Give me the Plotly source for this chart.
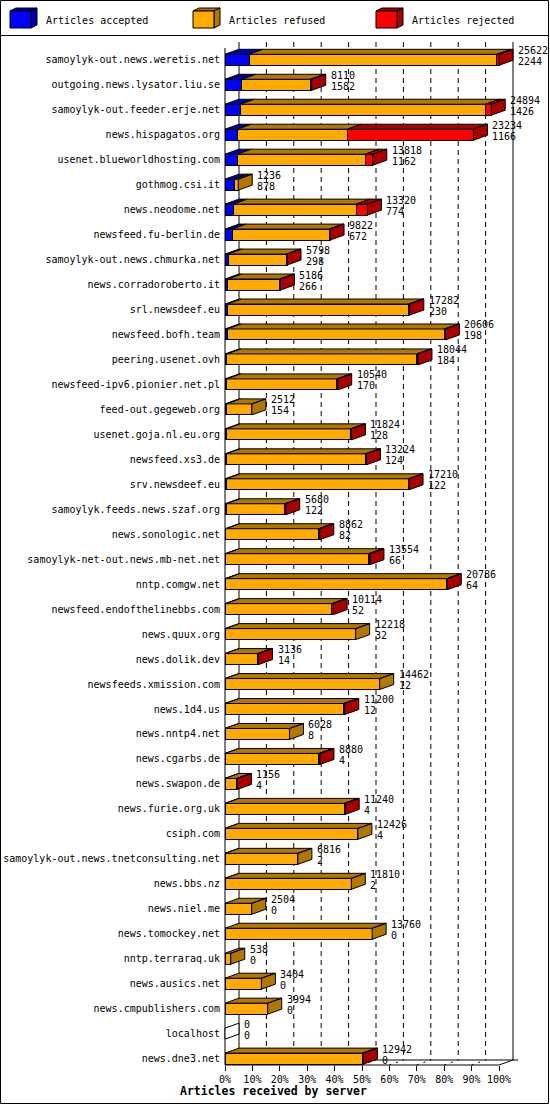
import plotly.graph_objects as go

# ---------------- data ----------------
servers = [
    "samoylyk-out.news.weretis.net", "outgoing.news.lysator.liu.se",
    "samoylyk-out.feeder.erje.net", "news.hispagatos.org",
    "usenet.blueworldhosting.com", "gothmog.csi.it", "news.neodome.net",
    "newsfeed.fu-berlin.de", "samoylyk-out.news.chmurka.net",
    "news.corradoroberto.it", "srl.newsdeef.eu", "newsfeed.bofh.team",
    "peering.usenet.ovh", "newsfeed-ipv6.pionier.net.pl",
    "feed-out.gegeweb.org", "usenet.goja.nl.eu.org", "newsfeed.xs3.de",
    "srv.newsdeef.eu", "samoylyk.feeds.news.szaf.org", "news.sonologic.net",
    "samoylyk-net-out.news.mb-net.net", "nntp.comgw.net",
    "newsfeed.endofthelinebbs.com", "news.quux.org", "news.dolik.dev",
    "newsfeeds.xmission.com", "news.1d4.us", "news.nntp4.net",
    "news.cgarbs.de", "news.swapon.de", "news.furie.org.uk", "csiph.com",
    "samoylyk-out.news.tnetconsulting.net", "news.bbs.nz", "news.niel.me",
    "news.tomockey.net", "nntp.terraraq.uk", "news.ausics.net",
    "news.cmpublishers.com", "localhost", "news.dne3.net",
]
accepted = [2244, 1582, 1426, 1166, 1162, 878, 774, 672, 298, 266, 230, 198,
            184, 170, 154, 128, 124, 122, 122, 82, 66, 64, 52, 32, 14, 12, 12,
            8, 4, 4, 4, 4, 2, 2, 0, 0, 0, 0, 0, 0, 0]
refused = [23188, 6398, 22938, 10280, 11956, 358, 11486, 9060, 5440, 4840,
           16952, 20328, 17760, 10290, 2358, 11606, 13000, 17028, 5458, 8690,
           13358, 20672, 9932, 12186, 3022, 14450, 11058, 6020, 8766, 1092,
           11136, 12422, 6814, 11808, 2504, 13760, 538, 3404, 3994, 0, 12852]
rejected = [190, 130, 530, 11788, 700, 0, 1060, 90, 60, 80, 100, 80, 100, 80,
            0, 90, 100, 60, 100, 90, 130, 50, 130, 0, 100, 0, 130, 0, 110, 60,
            100, 0, 0, 0, 0, 0, 0, 0, 0, 0, 90]
pct_ticks = [0, 10, 20, 30, 40, 50, 60, 70, 80, 90, 100]
pct_tick_labels = [f"{p}%" for p in pct_ticks]
legend_names = ["Articles accepted", "Articles refused", "Articles rejected"]
title_text = "Articles received by server"

# ---------------- styling / geometry ----------------
FRONT = ["#0000FF", "#FFAA00", "#FF0000"]
DARK = ["#0000AA", "#B07800", "#AA0000"]
FONT = "DejaVu Sans Mono"

W, H = 550, 1105
PX_X0 = 225.0        # pixel of front 0%
PX_PER_PCT = 2.74    # pixels per percent
PX_ROW0 = 59.8       # pixel of first row centre
PX_ROW = 24.97       # pixels per row
bar_h = 11.0 / PX_ROW
dxd = 14.0 / PX_PER_PCT
dyd = 5.0 / PX_ROW

x_range = [-PX_X0 / PX_PER_PCT, (W - PX_X0) / PX_PER_PCT]
y_range = [(H - PX_ROW0) / PX_ROW, -PX_ROW0 / PX_ROW]

def py2y(p):
    return (p - PX_ROW0) / PX_ROW

def px2paper(x):
    return x / W

def py2paper(y):
    return 1 - y / H

totals = [a + r + j for a, r, j in zip(accepted, refused, rejected)]
max_total = max(totals)
series = [accepted, refused, rejected]
pcts = [[v / max_total * 100 for v in s] for s in series]
rows = list(range(len(servers)))

fig = go.Figure()

# front faces as stacked horizontal bars
for k in range(3):
    fig.add_trace(go.Bar(
        y=rows, x=pcts[k], orientation="h", width=bar_h,
        marker=dict(color=FRONT[k], line=dict(color="black", width=1)),
        name=legend_names[k], showlegend=False, hoverinfo="skip"))

# top and side faces (3D effect)
poly = {c: ([], []) for c in DARK + ["#FFFFFF"]}
for i in rows:
    yt = i - bar_h / 2
    yb = i + bar_h / 2
    x0 = 0.0
    last = None
    for k in range(3):
        w = pcts[k][i]
        if w > 0:
            xs, ys = poly[DARK[k]]
            xs += [x0, x0 + w, x0 + w + dxd, x0 + dxd, x0, None]
            ys += [yt, yt, yt - dyd, yt - dyd, yt, None]
            last = k
        x0 += w
    side_col = DARK[last] if last is not None else "#FFFFFF"
    xs, ys = poly[side_col]
    xs += [x0, x0, x0 + dxd, x0 + dxd, x0, None]
    ys += [yt, yb, yb - dyd, yt - dyd, yt, None]

for col, (xs, ys) in poly.items():
    if xs:
        fig.add_trace(go.Scatter(
            x=xs, y=ys, mode="lines", fill="toself", fillcolor=col,
            line=dict(color="black", width=1), showlegend=False,
            hoverinfo="skip"))

# value labels (total offered / accepted)
for i in rows:
    xl = pcts[0][i] + pcts[1][i] + pcts[2][i] + dxd + 3.0 / PX_PER_PCT
    for txt, off in ((str(totals[i]), -9.5), (str(accepted[i]), 1.5)):
        fig.add_annotation(x=xl, y=i + off / PX_ROW, text=txt, showarrow=False,
                           xanchor="left", yanchor="middle",
                           font=dict(family=FONT, size=10, color="black"))

# back wall / floor lines
back_top = py2y(42)
back_floor = py2y(1060)
front_floor = py2y(1065)
front_top = py2y(48)
shapes = []
for p in pct_ticks[1:-1]:
    shapes.append(dict(type="line", xref="x", yref="y", x0=p + dxd, x1=p + dxd,
                       y0=back_top, y1=back_floor, layer="below",
                       line=dict(color="black", width=1, dash="5px,4px")))
    shapes.append(dict(type="line", xref="x", yref="y", x0=p, x1=p + dxd,
                       y0=front_floor, y1=back_floor, layer="below",
                       line=dict(color="black", width=1, dash="2px,5px")))
for p in (pct_ticks[0], pct_ticks[-1]):
    shapes.append(dict(type="line", xref="x", yref="y", x0=p + dxd, x1=p + dxd,
                       y0=back_top, y1=back_floor, layer="below",
                       line=dict(color="black", width=1)))
shapes.append(dict(type="line", xref="x", yref="y", x0=0, x1=0,
                   y0=front_top, y1=front_floor, layer="below",
                   line=dict(color="black", width=1)))
shapes.append(dict(type="line", xref="x", yref="y", x0=0, x1=100,
                   y0=front_floor, y1=front_floor, layer="below",
                   line=dict(color="black", width=1)))
shapes.append(dict(type="line", xref="x", yref="y", x0=100, x1=100 + dxd,
                   y0=front_floor, y1=back_floor, layer="below",
                   line=dict(color="black", width=1)))
shapes.append(dict(type="line", xref="x", yref="y", x0=dxd, x1=107,
                   y0=back_floor, y1=back_floor, layer="below",
                   line=dict(color="black", width=1)))

# frame and legend separator
shapes.append(dict(type="rect", xref="paper", yref="paper",
                   x0=px2paper(0.5), x1=px2paper(548.5),
                   y0=py2paper(0.5), y1=py2paper(1103.5),
                   line=dict(color="black", width=1)))
shapes.append(dict(type="line", xref="paper", yref="paper",
                   x0=px2paper(0.5), x1=px2paper(548.5),
                   y0=py2paper(35.5), y1=py2paper(35.5),
                   line=dict(color="black", width=1)))

# legend glyphs (3D boxes) and labels
def P(pts):
    return "M " + " L ".join(f"{px2paper(a)},{py2paper(b)}" for a, b in pts) + " Z"

for k in range(3):
    bx = 10 + 183 * k
    bw, by0, by1, ldx, ldy = 21, 11, 28, 6, 3
    shapes.append(dict(type="path", xref="paper", yref="paper",
                       path=P([(bx, by0), (bx + bw, by0), (bx + bw + ldx, by0 - ldy), (bx + ldx, by0 - ldy)]),
                       fillcolor=DARK[k], line=dict(color="black", width=1)))
    shapes.append(dict(type="path", xref="paper", yref="paper",
                       path=P([(bx + bw, by0), (bx + bw, by1), (bx + bw + ldx, by1 - ldy), (bx + bw + ldx, by0 - ldy)]),
                       fillcolor=DARK[k], line=dict(color="black", width=1)))
    shapes.append(dict(type="rect", xref="paper", yref="paper",
                       x0=px2paper(bx), x1=px2paper(bx + bw),
                       y0=py2paper(by1), y1=py2paper(by0),
                       fillcolor=FRONT[k], line=dict(color="black", width=1)))
    fig.add_annotation(xref="paper", yref="paper", x=px2paper(bx + 33.5),
                       y=py2paper(20), text=legend_names[k], showarrow=False,
                       xanchor="left", yanchor="middle",
                       font=dict(family=FONT, size=10, color="black"))

fig.add_annotation(xref="paper", yref="paper", x=px2paper(273), y=py2paper(1091),
                   text="<b>" + title_text + "</b>", showarrow=False,
                   xanchor="center", yanchor="middle",
                   font=dict(family=FONT, size=11.5, color="black"))

fig.update_layout(
    width=W, height=H, autosize=False,
    margin=dict(l=0, r=0, t=0, b=0, pad=0),
    paper_bgcolor="white", plot_bgcolor="white",
    barmode="stack", showlegend=False, shapes=shapes,
    font=dict(family=FONT, size=10, color="black"),
    xaxis=dict(range=x_range, tickmode="array", tickvals=pct_ticks,
               ticktext=pct_tick_labels,
               ticks="outside", ticklen=5, tickcolor="black",
               showgrid=False, zeroline=False, showline=False,
               anchor="free", position=py2paper(1065), fixedrange=True,
               tickfont=dict(family=FONT, size=10, color="black")),
    yaxis=dict(range=y_range, tickmode="array", tickvals=rows,
               ticktext=servers, ticks="", ticklabelstandoff=5,
               showgrid=False, zeroline=False, showline=False,
               anchor="free", position=px2paper(PX_X0), fixedrange=True,
               tickfont=dict(family=FONT, size=10, color="black")),
)

fig.write_html(
    "out.html",
    config={"displayModeBar": False, "staticPlot": True},
    post_script="document.body.style.margin='0';document.body.style.padding='0';"
                "document.body.style.overflow='hidden';",
)
